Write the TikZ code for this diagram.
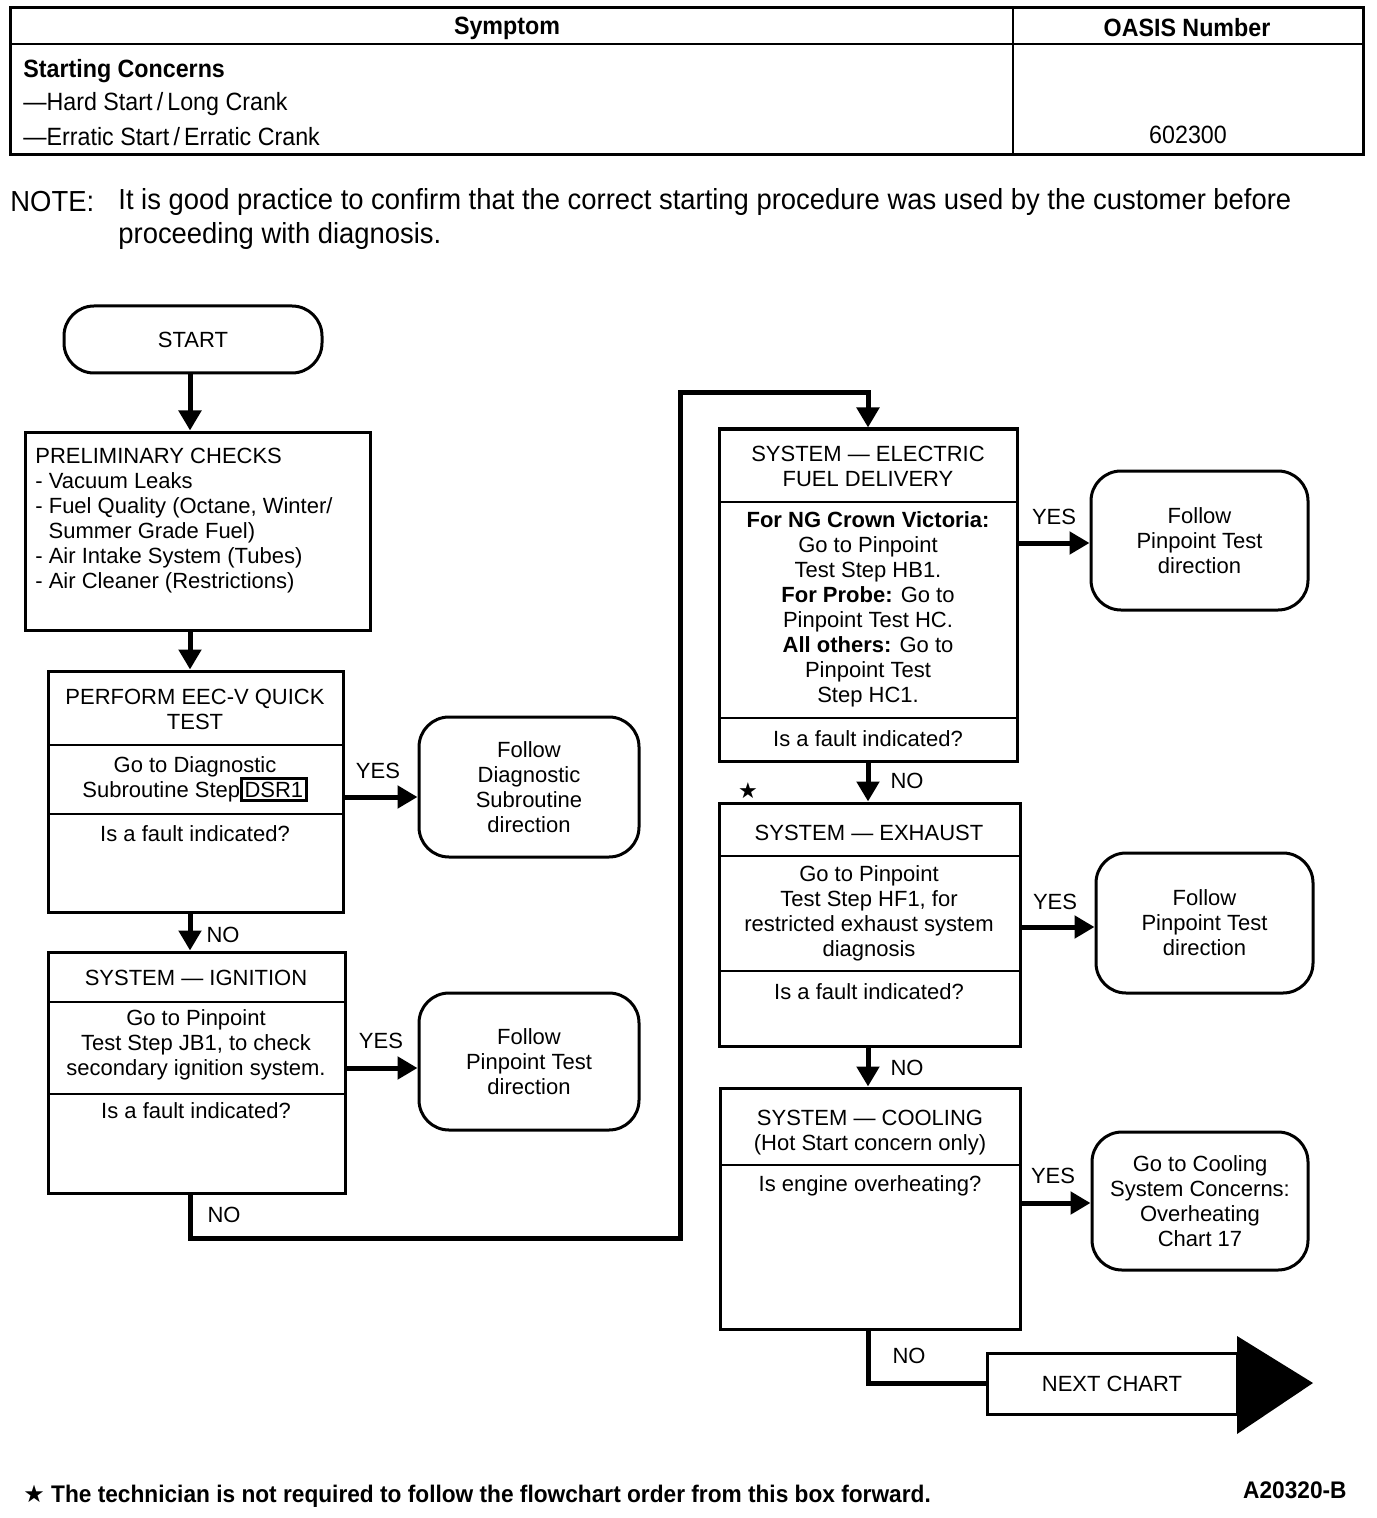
\documentclass[tikz,border=0pt]{standalone}
\usepackage{fontspec}
\setmainfont{Liberation Sans}
\newfontfamily\condf[FakeStretch=0.93,Ligatures=TeX]{Liberation Sans}
\newfontfamily\notef[FakeStretch=0.945,Ligatures=TeX]{Liberation Sans}
\newfontfamily\footf[FakeStretch=0.945,Ligatures=TeX]{Liberation Sans}
\newfontfamily\symf{DejaVu Sans}
\usetikzlibrary{arrows.meta,calc}
\newcommand\mkbox[7][boxst]{\node[#1,minimum width={(#5-#3)*0.5pt},minimum height={(#6-#4)*0.5pt}] (#2) at ({(#3+#5)/2},{(#4+#6)/2}) {#7};}
\begin{document}
\begin{tikzpicture}[x=0.5pt,y=-0.5pt,
  boxst/.style={draw,line width=1.5pt,inner sep=0pt,align=center,font=\fontsize{11}{12.5}\selectfont},
  rbox/.style={boxst,rounded corners=15pt},
  ft/.style={font=\fontsize{11}{12.5}\selectfont,align=center,inner sep=0pt},
  lbl/.style={font=\fontsize{11}{12.5}\selectfont,inner sep=0pt},
  tb/.style={font=\condf\fontsize{12.5}{14}\selectfont,inner sep=0pt},
  tbb/.style={font=\condf\bfseries\fontsize{12.5}{14}\selectfont,inner sep=0pt},
  arr/.style={line width=2.5pt,-{Triangle[length=10pt,width=11pt]}},
  ln/.style={line width=2.5pt},
  dv/.style={line width=1.2pt}]
\useasboundingbox (0,0) rectangle (1376,1518);
% ---------- table ----------
\mkbox{tbl}{10}{8}{1363}{155}{}
\draw[line width=1.2pt] (10,44) -- (1363,44);
\draw[line width=1.2pt] (1013,8) -- (1013,155);
\node[tbb] (hsym) at (507,28) {Symptom};
\node[tbb] (hoas) at (1187,28) {OASIS Number};
\node[tbb,anchor=west] (sc) at (23,71) {Starting Concerns};
\node[tb,anchor=west] (hs) at (23,104) {—Hard Start\,/\,Long Crank};
\node[tb,anchor=west] (es) at (23,137) {—Erratic Start\,/\,Erratic Crank};
\node[tb] (num) at (1188,135) {602300};
% ---------- note ----------
\node[inner sep=0pt,anchor=west,font=\notef\fontsize{14.5}{17}\selectfont] (note) at (10,202) {NOTE:};
\node[inner sep=0pt,anchor=west,align=left,font=\notef\fontsize{14.5}{17}\selectfont] (notet) at (118,219) {It is good practice to confirm that the correct starting procedure was used by the customer before\\proceeding with diagnosis.};
% ---------- left column ----------
\mkbox[rbox]{start}{64}{306}{322}{373}{START}
\mkbox{prelim}{25}{432}{370}{630}{}
\node[ft,align=left,anchor=west] (prelimt) at (35,521) {PRELIMINARY CHECKS\\- Vacuum Leaks\\- Fuel Quality (Octane, Winter/\\\hspace{0.6em}Summer Grade Fuel)\\- Air Intake System (Tubes)\\- Air Cleaner (Restrictions)};
\mkbox{eec}{48}{671}{343}{912}{}
\draw[dv] (48,745) -- (343,745);
\draw[dv] (48,814) -- (343,814);
\node[ft] (eect) at (195,709) {PERFORM EEC-V QUICK\\TEST};
\node[ft] (eecm) at (195,779) {Go to Diagnostic\\Subroutine Step{\setlength{\fboxsep}{1pt}\setlength{\fboxrule}{1.2pt}\fbox{DSR1}}};
\node[ft] (eecb) at (195,834) {Is a fault indicated?};
\mkbox[rbox]{fol1}{419}{717}{639}{857}{Follow\\Diagnostic\\Subroutine\\direction}
\mkbox{ign}{48}{952}{345}{1193}{}
\draw[dv] (48,1002) -- (345,1002);
\draw[dv] (48,1094) -- (345,1094);
\node[ft] (ignt) at (196,978) {SYSTEM --- IGNITION};
\node[ft] (ignm) at (196,1045) {Go to Pinpoint\\Test Step JB1, to check\\secondary ignition system.};
\node[ft] (ignb) at (196,1111) {Is a fault indicated?};
\mkbox[rbox]{fol2}{419}{993}{639}{1130}{Follow\\Pinpoint Test\\direction}
% ---------- right column ----------
\mkbox{efd}{719}{429}{1017}{761}{}
\draw[dv] (719,502) -- (1017,502);
\draw[dv] (719,718) -- (1017,718);
\node[ft] (efdt) at (868,466) {SYSTEM --- ELECTRIC\\FUEL DELIVERY};
\node[ft] (efdm) at (868,609.5) {\textbf{For NG Crown Victoria:}\\Go to Pinpoint\\Test Step HB1.\\\textbf{For Probe:} Go to\\Pinpoint Test HC.\\\textbf{All others:} Go to\\Pinpoint Test\\Step HC1.};
\node[ft] (efdb) at (868,739) {Is a fault indicated?};
\mkbox[rbox]{fol3}{1091}{471}{1308}{610}{Follow\\Pinpoint Test\\direction}
\mkbox{exh}{719}{803}{1020}{1046}{}
\draw[dv] (719,856) -- (1020,856);
\draw[dv] (719,971) -- (1020,971);
\node[ft] (exht) at (869,833) {SYSTEM --- EXHAUST};
\node[ft] (exhm) at (869,913.5) {Go to Pinpoint\\Test Step HF1, for\\restricted exhaust system\\diagnosis};
\node[ft] (exhb) at (869,992) {Is a fault indicated?};
\mkbox[rbox]{fol4}{1096}{853}{1313}{993}{Follow\\Pinpoint Test\\direction}
\mkbox{cool}{720}{1088}{1020}{1329}{}
\draw[dv] (720,1165) -- (1020,1165);
\node[ft] (coolt) at (870,1133) {SYSTEM --- COOLING\\(Hot Start concern only)};
\node[ft] (coolb) at (870,1186) {Is engine overheating?};
\mkbox[rbox]{cgo}{1092}{1132}{1308}{1270}{Go to Cooling\\System Concerns:\\Overheating\\Chart 17}
\mkbox{nc}{987}{1353}{1237}{1414}{NEXT CHART}
\fill (1237,1336) -- (1313,1383) -- (1237,1434) -- cycle;
% ---------- labels ----------
\node[lbl] (y1) at (378,771) {YES};
\node[lbl] (y2) at (381,1041) {YES};
\node[lbl] (y3) at (1054,517) {YES};
\node[lbl] (y4) at (1055,902) {YES};
\node[lbl] (y5) at (1053,1176) {YES};
\node[lbl] (n1) at (223,935) {NO};
\node[lbl] (n2) at (224,1215) {NO};
\node[lbl] (n3) at (907,781) {NO};
\node[lbl] (n4) at (907,1068) {NO};
\node[lbl] (n5) at (909,1356) {NO};
\node[inner sep=0pt,font=\symf\fontsize{11}{12}\selectfont] (star) at (748,791) {★};
% ---------- connectors ----------
\coordinate (ya) at (0,797);
\coordinate (yb) at (0,1068);
\coordinate (yc) at (0,543);
\coordinate (yd) at (0,927);
\coordinate (ye) at (0,1203);
\coordinate (c1) at (680,1238);
\coordinate (c2) at (680,393);
\draw[arr] (start.south -| 190,0) -- (prelim.north -| 190,0);
\draw[arr] (prelim.south -| 190,0) -- (eec.north -| 190,0);
\draw[arr] (eec.south -| 190,0) -- (ign.north -| 190,0);
\draw[arr] (ign.south -| 190,0) |- (c1) -- (c2) -| (efd.north);
\draw[arr] (eec.east |- ya) -- (fol1.west |- ya);
\draw[arr] (ign.east |- yb) -- (fol2.west |- yb);
\draw[arr] (efd.east |- yc) -- (fol3.west |- yc);
\draw[arr] (exh.east |- yd) -- (fol4.west |- yd);
\draw[arr] (cool.east |- ye) -- (cgo.west |- ye);
\draw[arr] (efd.south) -- (exh.north -| efd.south);
\draw[arr] (exh.south -| efd.south) -- (cool.north -| efd.south);
\draw[ln] (cool.south -| efd.south) |- (nc.west);
% ---------- footer ----------
\node[inner sep=0pt,anchor=west,font=\footf\bfseries\fontsize{12}{14}\selectfont] (foot) at (23,1496) {{\symf ★} The technician is not required to follow the flowchart order from this box forward.};
\node[inner sep=0pt,anchor=east,font=\footf\bfseries\fontsize{12}{14}\selectfont] (fig) at (1347,1490) {A20320-B};
\end{tikzpicture}
\end{document}
